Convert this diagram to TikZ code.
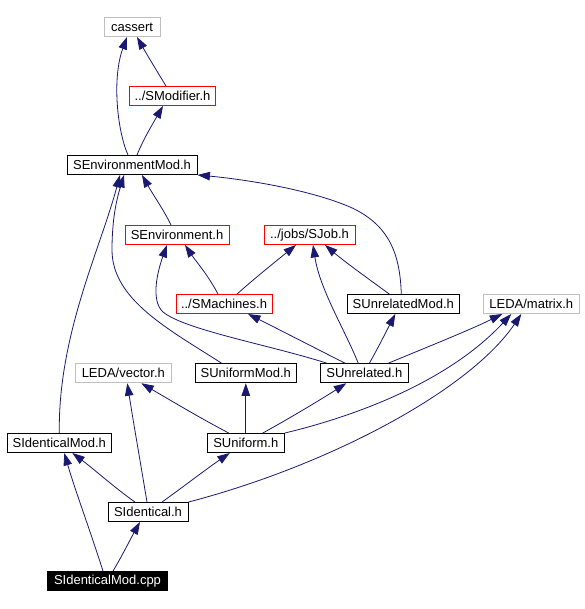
\documentclass[tikz,border=0pt]{standalone}
\usepackage{fontspec}
\setmainfont{Liberation Sans}
\usetikzlibrary{arrows.meta}
\definecolor{edgeblue}{RGB}{25,25,112}
\definecolor{greyframe}{RGB}{191,191,191}
\tikzset{
  filebox/.style={draw=black, line width=0.9pt, fill=white, inner sep=0pt, minimum height=19pt, font=\fontsize{13pt}{15pt}\selectfont, text=black},
  greybox/.style={filebox, draw=greyframe},
  redbox/.style={filebox, draw=red},
  rootbox/.style={filebox, fill=black, text=white},
  dep/.style={draw=edgeblue, line width=0.8pt, -{Triangle[length=12.5pt,width=8.5pt]}, edgeblue}
}
\begin{document}
\begin{tikzpicture}[x=1pt,y=-1pt]
\useasboundingbox (0,0) rectangle (584,609);
% nodes
\node[greybox, minimum width=56pt]  (cassert)   at (132,27)    {cassert};
\node[redbox,  minimum width=86pt]  (smod)      at (172.5,96)  {../SModifier.h};
\node[filebox, minimum width=130pt] (senvmod)   at (132,165)   {SEnvironmentMod.h};
\node[redbox,  minimum width=104pt] (senv)      at (177,235)   {SEnvironment.h};
\node[redbox,  minimum width=91pt]  (sjob)      at (309.5,235) {../jobs/SJob.h};
\node[redbox,  minimum width=96pt]  (smach)     at (224,304)   {../SMachines.h};
\node[filebox, minimum width=112pt] (sunrelmod) at (403.3,304) {SUnrelatedMod.h};
\node[greybox, minimum width=96pt]  (matrix)    at (531.3,304) {LEDA/matrix.h};
\node[filebox, minimum width=88pt]  (sunrel)    at (364.3,373.3) {SUnrelated.h};
\node[filebox, minimum width=101pt] (sunimod)   at (245.8,373.3) {SUniformMod.h};
\node[greybox, minimum width=96pt]  (vector)    at (123.3,373.3) {LEDA/vector.h};
\node[filebox, minimum width=104pt] (sidmod)    at (59.3,443)  {SIdenticalMod.h};
\node[filebox, minimum width=77pt]  (suni)      at (245.8,443) {SUniform.h};
\node[filebox, minimum width=80pt]  (sid)       at (148,512)   {SIdentical.h};
\node[rootbox, minimum width=120pt] (cpp)       at (107.5,581) {SIdenticalMod.cpp};
% edges
\draw[dep] ([xshift=-6.5pt]smod.north) .. controls (160,76) and (150,60) .. ([xshift=5pt]cassert.south);
\draw[dep] ([xshift=-4pt]senvmod.north) .. controls (117,130) and (112,78) .. ([xshift=-5pt]cassert.south);
\draw[dep] ([xshift=5pt]senvmod.north) .. controls (143,140) and (152,125) .. ([xshift=-9.5pt]smod.south);
\draw[dep] ([xshift=-6pt]senv.north) .. controls (165,212) and (152,193) .. ([xshift=10pt]senvmod.south);
\draw[dep] ([xshift=-2pt]sunrelmod.north) .. controls (400,255) and (390,225) .. (350,207) .. controls (310,190) and (250,180) .. (senvmod.south east);
\draw[dep] (sidmod.north) .. controls (58,335) and (100,250) .. ([xshift=-12pt]senvmod.south);
\draw[dep] ([xshift=-24pt]sunimod.north) .. controls (170,330) and (112,300) .. (112,250) .. controls (112,215) and (118,195) .. ([xshift=-8pt]senvmod.south);
\draw[dep] ([xshift=-6pt]smach.north) .. controls (208,275) and (195,260) .. ([xshift=8pt]senv.south);
\draw[dep] ([xshift=13pt]smach.north) .. controls (255,278) and (275,262) .. ([xshift=-13.5pt]sjob.south);
\draw[dep] ([xshift=-37pt]sunrel.north) .. controls (270,345) and (185,330) .. (163,312) .. controls (150,300) and (158,270) .. ([xshift=-10pt]senv.south);
\draw[dep] ([xshift=-19pt]sunrel.north) .. controls (315,348) and (280,330) .. ([xshift=24pt]smach.south);
\draw[dep] ([xshift=-6pt]sunrel.north) .. controls (345,330) and (320,290) .. ([xshift=3.5pt]sjob.south);
\draw[dep] ([xshift=5pt]sunrel.north) .. controls (378,348) and (387,330) .. ([xshift=-8pt]sunrelmod.south);
\draw[dep] ([xshift=23.7pt]sunrel.north) .. controls (420,350) and (470,330) .. ([xshift=-29pt]matrix.south);
\draw[dep] ([xshift=-14pt]sunrelmod.north) .. controls (370,280) and (345,262) .. ([xshift=15.5pt]sjob.south);
\draw[dep] (suni.north) -- (sunimod.south);
\draw[dep] ([xshift=17pt]suni.north) .. controls (290,418) and (320,400) .. ([xshift=-18pt]sunrel.south);
\draw[dep] ([xshift=-17pt]suni.north) .. controls (200,418) and (170,400) .. ([xshift=18pt]vector.south);
\draw[dep] (suni.north east) .. controls (360,415) and (450,380) .. ([xshift=-20pt]matrix.south);
\draw[dep] (sid.north east) .. controls (330,465) and (470,390) .. ([xshift=-10pt]matrix.south);
\draw[dep] ([xshift=-13pt]sid.north) .. controls (115,488) and (95,470) .. ([xshift=13pt]sidmod.south);
\draw[dep] ([xshift=-1pt]sid.north) .. controls (140,460) and (133,420) .. ([xshift=4pt]vector.south);
\draw[dep] ([xshift=14pt]sid.north) .. controls (183,487) and (205,470) .. ([xshift=-16pt]suni.south);
\draw[dep] ([xshift=-4.5pt]cpp.north) .. controls (90,530) and (75,490) .. ([xshift=5pt]sidmod.south);
\draw[dep] ([xshift=5.5pt]cpp.north) .. controls (122,556) and (131,538) .. ([xshift=-8pt]sid.south);
\end{tikzpicture}
\end{document}
